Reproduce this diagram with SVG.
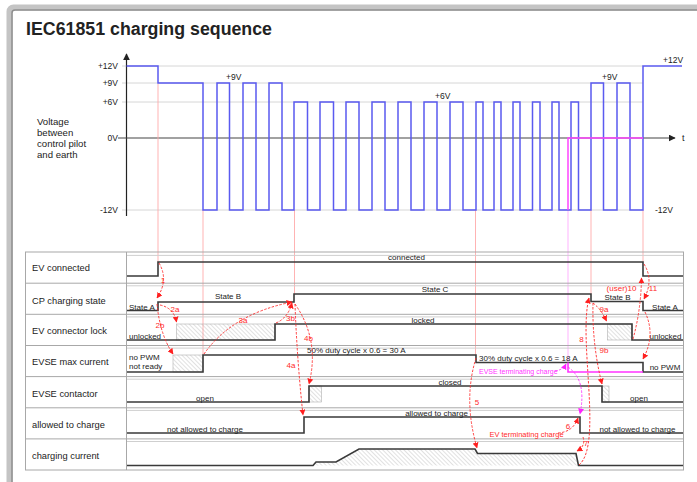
<svg xmlns="http://www.w3.org/2000/svg" width="697" height="482" viewBox="0 0 697 482">
<defs>
<style>
.t{font-family:"Liberation Sans",Arial,sans-serif;fill:#222}
.ax{font-size:8.5px}
.row{font-size:9.3px}
.sm{font-size:8px}
.rl{font-size:8px;fill:#ff2a2a}
.ml{fill:#ff33ff}
.grid{stroke:#d6d6d6;stroke-width:1}
.sig{fill:none;stroke:#3a3a3a;stroke-width:1.6}
.wave{fill:none;stroke:#5a5af0;stroke-width:1.5}
.vl{stroke:#ffaaaa;stroke-width:0.9}
.vm{stroke:#ffaaff;stroke-width:0.9}
.tb{stroke:#a8a8a8;stroke-width:1;fill:none}
.tb2{stroke:#cfcfcf;stroke-width:1}
.da{fill:none;stroke:#ff2a2a;stroke-width:0.9;stroke-dasharray:2.5 1.5}
.dm{fill:none;stroke:#ff33ff;stroke-width:0.9;stroke-dasharray:2.5 1.5}
.hb{fill:url(#hatch);stroke:#b0b0b0;stroke-width:0.6}
</style>
<pattern id="hatch" patternUnits="userSpaceOnUse" width="3" height="3" patternTransform="rotate(-45)">
<line x1="0" y1="0" x2="0" y2="3" stroke="#9a9a9a" stroke-width="0.6"/>
</pattern>
<marker id="ar" viewBox="0 0 10 10" refX="9" refY="5" markerWidth="6" markerHeight="6" markerUnits="userSpaceOnUse" orient="auto"><path d="M0,0 L10,5 L0,10 z" fill="#ff2020"/></marker>
<marker id="am" viewBox="0 0 10 10" refX="9" refY="5" markerWidth="6" markerHeight="6" markerUnits="userSpaceOnUse" orient="auto"><path d="M0,0 L10,5 L0,10 z" fill="#ff22ff"/></marker>
<marker id="ak" viewBox="0 0 10 10" refX="9" refY="5" markerWidth="7" markerHeight="7" markerUnits="userSpaceOnUse" orient="auto"><path d="M0,0 L10,5 L0,10 z" fill="#222"/></marker>
</defs>
<rect width="697" height="482" fill="#fff"/>
<g id="frame">
<rect x="9.5" y="7.5" width="720" height="500" rx="4" fill="none" stroke="#c4c4c4" stroke-width="6"/>
<rect x="12" y="10" width="720" height="500" rx="3" fill="none" stroke="#8e8e8e" stroke-width="1.5"/>
</g>
<text id="title" x="26" y="35" class="t" style="font-size:18px;font-weight:bold" textLength="246" lengthAdjust="spacingAndGlyphs">IEC61851 charging sequence</text>

<g id="voltage-chart">
<line class="grid" x1="122" y1="66" x2="643" y2="66"/>
<line class="grid" x1="122" y1="83" x2="643" y2="83"/>
<line class="grid" x1="122" y1="102" x2="643" y2="102"/>
<line class="grid" x1="122" y1="210" x2="643" y2="210"/>
<line x1="126.5" y1="216" x2="126.5" y2="54" stroke="#222" stroke-width="1.2" marker-end="url(#ak)"/>
<line x1="118" y1="138" x2="675" y2="138" stroke="#444" stroke-width="1.2" marker-end="url(#ak)"/>
<text class="t" x="682" y="141" style="font-size:9px">t</text>
<g class="t ax" text-anchor="end">
<text x="118" y="69">+12V</text>
<text x="118" y="86">+9V</text>
<text x="118" y="105">+6V</text>
<text x="118" y="141">0V</text>
<text x="118" y="213">-12V</text>
</g>
<g class="t ax">
<text x="226" y="80">+9V</text>
<text x="435" y="99">+6V</text>
<text x="602" y="80">+9V</text>
<text x="663" y="63">+12V</text>
<text x="655" y="213">-12V</text>
</g>
<text class="t" style="font-size:9.6px"><tspan x="37" y="125">Voltage</tspan><tspan x="37" y="136">between</tspan><tspan x="37" y="147">control pilot</tspan><tspan x="37" y="158">and earth</tspan></text>
<line class="vl" x1="158" y1="84" x2="158" y2="262"/>
<line class="vl" x1="203" y1="210" x2="203" y2="355"/>
<line class="vl" x1="294.5" y1="210" x2="294.5" y2="294"/>
<line class="vl" x1="475.5" y1="210" x2="475.5" y2="355"/>
<line class="vm" x1="568" y1="210" x2="568" y2="362"/>
<line class="vl" x1="591" y1="210" x2="591" y2="294"/>
<line class="vl" x1="643" y1="210" x2="643" y2="262"/>
<path class="wave" d="M126.5,66 H158 V83 H203 V210 H217 V83 H229.5 V210 H243 V83 H256 V210 H269 V83 H282 V210 H294 V102 H307.5 V210 H320 V102 H333.5 V210 H346 V102 H359 V210 H372 V102 H385 V210 H398 V102 H411 V210 H424 V102 H437 V210 H450 V102 H463 V210 H476 V102 H483 V210 H494 V102 H501 V210 H513 V102 H520 V210 H532.5 V102 H540 V210 H552 V102 H559 V210 H571 V102 H578.5 V210 H591 V83 H603.5 V210 H617 V83 H630 V210 H643 V66 H682"/>
<path d="M568,210 V138 H643" fill="none" stroke="#ff44ff" stroke-width="1.5"/>
</g>

<g id="table">
<rect class="tb" x="25.5" y="252" width="658" height="218"/>
<line class="tb" x1="126.5" y1="252" x2="126.5" y2="470"/>
<g class="tb">
<line x1="25.5" y1="283.2" x2="683.5" y2="283.2"/>
<line x1="25.5" y1="314.3" x2="683.5" y2="314.3"/>
<line x1="25.5" y1="345.5" x2="683.5" y2="345.5"/>
<line x1="25.5" y1="376.6" x2="683.5" y2="376.6"/>
<line x1="25.5" y1="407.8" x2="683.5" y2="407.8"/>
<line x1="25.5" y1="438.9" x2="683.5" y2="438.9"/>
</g>
<g class="tb2">
<line x1="127" y1="255.4" x2="683" y2="255.4"/>
<line x1="127" y1="285.8" x2="683" y2="285.8"/>
<line x1="127" y1="316.9" x2="683" y2="316.9"/>
<line x1="127" y1="348.1" x2="683" y2="348.1"/>
<line x1="127" y1="379.2" x2="683" y2="379.2"/>
<line x1="127" y1="410.4" x2="683" y2="410.4"/>
<line x1="127" y1="441.5" x2="683" y2="441.5"/>
</g>
<g class="t row">
<text x="32" y="271">EV connected</text>
<text x="32" y="303.5">CP charging state</text>
<text x="32" y="334">EV connector lock</text>
<text x="32" y="365">EVSE max current</text>
<text x="32" y="396.5">EVSE contactor</text>
<text x="32" y="427.5">allowed to charge</text>
<text x="32" y="459">charging current</text>
</g>
</g>

<g id="row-ev-connected">
<path class="sig" d="M127,276 H158 V262 H643 V276 H683"/>
<text class="t sm" x="406.5" y="260" text-anchor="middle">connected</text>
</g>
<g id="row-cp-state">
<path class="sig" d="M127,310.5 H158 V302 H294 V294 H591 V301.5 H643 V310.5 H683"/>
<g class="t sm">
<text x="129" y="309.5">State A</text>
<text x="228" y="298.5" text-anchor="middle">State B</text>
<text x="435" y="291.8" text-anchor="middle">State C</text>
<text x="617.5" y="299.5" text-anchor="middle">State B</text>
<text x="665" y="309.5" text-anchor="middle">State A</text>
</g>
</g>
<g id="row-lock">
<rect class="hb" x="176.5" y="324" width="98.5" height="16"/>
<rect class="hb" x="607.5" y="324" width="24.5" height="16"/>
<path class="sig" d="M127,340 H275 V324 H632 V340 H683"/>
<g class="t sm">
<text x="129" y="338.5">unlocked</text>
<text x="423" y="322.8" text-anchor="middle">locked</text>
<text x="665.5" y="338.5" text-anchor="middle">unlocked</text>
</g>
</g>
<g id="row-max-current">
<rect class="hb" x="173" y="355" width="30" height="17"/>
<path class="sig" d="M127,372 H203 V355 H476 V362.5 H643 V372 H683"/>
<path d="M568,362.5 V372 H643" fill="none" stroke="#ff33ff" stroke-width="1.6"/>
<g class="t sm">
<text x="129" y="360">no PWM</text>
<text x="129" y="368.5">not ready</text>
<text x="307" y="353">50% duty cycle x 0.6 = 30 A</text>
<text x="479" y="360.5">30% duty cycle x 0.6 = 18 A</text>
<text x="665" y="370" text-anchor="middle">no PWM</text>
</g>
<text class="t ml" x="479" y="373.5" style="font-size:7px">EVSE terminating charge</text>
</g>
<g id="row-contactor">
<rect class="hb" x="309" y="386" width="12.5" height="16"/>
<rect class="hb" x="602" y="386" width="7" height="16"/>
<path class="sig" d="M127,402 H309 V386 H602 V402 H683"/>
<g class="t sm" text-anchor="middle">
<text x="205" y="400.5">open</text>
<text x="450" y="384.5">closed</text>
<text x="639" y="400.5">open</text>
</g>
</g>
<g id="row-allowed">
<path class="sig" d="M127,433 H304 V417 H580 V433 H683"/>
<g class="t sm" text-anchor="middle">
<text x="205" y="431.5">not allowed to charge</text>
<text x="436.5" y="415.5">allowed to charge</text>
<text x="637.5" y="431.5">not allowed to charge</text>
</g>
<text class="t rl" x="526.5" y="437" text-anchor="middle" style="font-size:7.5px">EV terminating charge</text>
</g>
<g id="row-charging-current">
<polygon points="316,462 336,462 359,449 475,449 477.5,453.5 576,453.5 578.5,465.5 313,465.5" fill="url(#hatch)"/>
<path class="sig" d="M127,465.5 H313 L316,462 H336 L359,449 H475 L477.5,453.5 H576 L578.5,465.5 H683"/>
</g>

<g id="connectors">
<path class="da" d="M159,263 Q169,280 157,298" marker-end="url(#ar)"/>
<path class="da" d="M160,305 Q174,308 176.5,322" marker-end="url(#ar)"/>
<path class="da" d="M157,304 Q160,335 173,354" marker-end="url(#ar)"/>
<path class="da" d="M204,354 Q232,314 292,302" marker-end="url(#ar)"/>
<path class="da" d="M276,323 Q288,318 292,303" marker-end="url(#ar)"/>
<path class="da" d="M295,304 Q297,360 303,415" marker-end="url(#ar)"/>
<path class="da" d="M295,304 Q320,340 309,384" marker-end="url(#ar)"/>
<path class="da" d="M476,358 Q463,400 477,448" marker-end="url(#ar)"/>
<path class="da" d="M558,433 Q573,432 578,418" marker-end="url(#ar)"/>
<path class="da" d="M583,437 Q586,446 577,451" marker-end="url(#ar)"/>
<path class="da" d="M579,465 C603,445 578,340 589,298" marker-end="url(#ar)"/>
<path class="da" d="M593,303 Q601,309 606.5,321" marker-end="url(#ar)"/>
<path class="da" d="M593,303 Q592,345 602,384" marker-end="url(#ar)"/>
<path class="da" d="M633,339 Q641,310 641.5,278" marker-end="url(#ar)"/>
<path class="da" d="M644,264 Q654,280 644,299" marker-end="url(#ar)"/>
<path class="da" d="M645,312 Q656,335 643,359" marker-end="url(#ar)"/>
<path class="dm" d="M555,371 Q563,370 566,364" marker-end="url(#am)"/>
<path class="dm" d="M568,367 Q587,380 580,414" marker-end="url(#am)"/>
<g class="t rl" text-anchor="middle">
<text x="163" y="283">1</text>
<text x="175" y="312">2a</text>
<text x="160" y="328">2b</text>
<text x="243" y="322.5">3a</text>
<text x="290.5" y="321">3b</text>
<text x="291" y="368">4a</text>
<text x="308.5" y="341">4b</text>
<text x="477" y="404.5">5</text>
<text x="568" y="429">6</text>
<text x="586" y="446">7</text>
<text x="581.5" y="342">8</text>
<text x="604" y="312">9a</text>
<text x="604" y="353">9b</text>
<text x="621.5" y="291">(user)10</text>
<text x="653" y="291">11</text>
</g>
</g>
</svg>
